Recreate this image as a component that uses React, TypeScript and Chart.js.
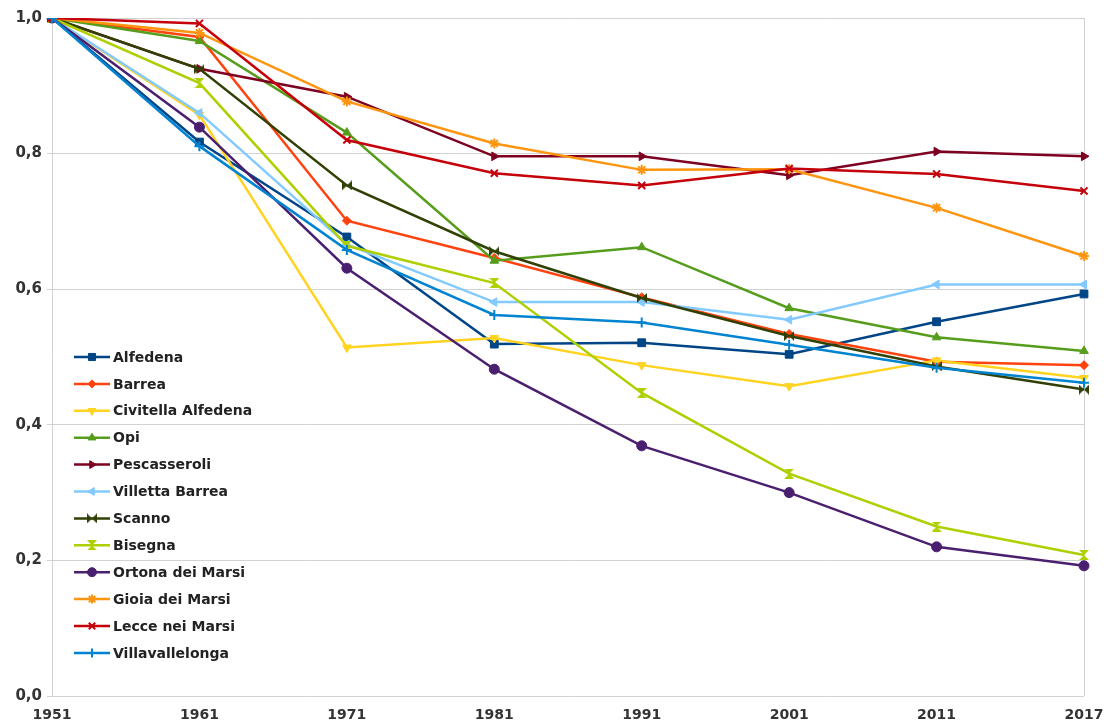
import React, { useEffect, useRef } from "react";
import { Chart, registerables } from "chart.js";
import { drawPoint } from "chart.js/helpers";

Chart.register(...registerables);

const years = ["1951", "1961", "1971", "1981", "1991", "2001", "2011", "2017"];

const alfedena = [1.0, 0.817, 0.677, 0.519, 0.521, 0.504, 0.552, 0.593];
const barrea = [1.0, 0.972, 0.701, 0.646, 0.588, 0.534, 0.493, 0.488];
const civitella = [1.0, 0.857, 0.514, 0.528, 0.488, 0.457, 0.495, 0.469];
const opi = [1.0, 0.966, 0.831, 0.642, 0.662, 0.572, 0.529, 0.509];
const pescasseroli = [1.0, 0.925, 0.884, 0.796, 0.796, 0.768, 0.803, 0.796];
const villettaBarrea = [1.0, 0.86, 0.666, 0.581, 0.581, 0.555, 0.607, 0.607];
const scanno = [1.0, 0.925, 0.753, 0.656, 0.587, 0.531, 0.486, 0.452];
const bisegna = [1.0, 0.904, 0.664, 0.609, 0.447, 0.328, 0.25, 0.208];
const ortona = [1.0, 0.839, 0.631, 0.482, 0.369, 0.3, 0.22, 0.192];
const gioia = [1.0, 0.978, 0.877, 0.815, 0.776, 0.777, 0.72, 0.649];
const lecce = [1.0, 0.992, 0.82, 0.771, 0.753, 0.778, 0.77, 0.745];
const villavallelonga = [1.0, 0.811, 0.658, 0.562, 0.551, 0.518, 0.484, 0.462];

const seriesNames = [
  "Alfedena",
  "Barrea",
  "Civitella Alfedena",
  "Opi",
  "Pescasseroli",
  "Villetta Barrea",
  "Scanno",
  "Bisegna",
  "Ortona dei Marsi",
  "Gioia dei Marsi",
  "Lecce nei Marsi",
  "Villavallelonga",
];
const seriesValues = [
  alfedena, barrea, civitella, opi, pescasseroli, villettaBarrea,
  scanno, bisegna, ortona, gioia, lecce, villavallelonga,
];
const seriesColors = [
  "#004586", "#ff420e", "#ffd320", "#579d1c", "#7e0021", "#83caff",
  "#314004", "#aecf00", "#4b1f6f", "#ff950e", "#c5000b", "#0084d1",
];

function shapeCanvas(color: string, kind: "bowtie" | "sandglass", s = 10) {
  const c = document.createElement("canvas");
  c.width = s;
  c.height = s;
  const g = c.getContext("2d")!;
  g.fillStyle = color;
  g.beginPath();
  if (kind === "bowtie") {
    g.moveTo(0, 0); g.lineTo(s / 2, s / 2); g.lineTo(0, s); g.closePath();
    g.moveTo(s, 0); g.lineTo(s / 2, s / 2); g.lineTo(s, s); g.closePath();
  } else {
    g.moveTo(0, 0); g.lineTo(s, 0); g.lineTo(s / 2, s / 2); g.closePath();
    g.moveTo(0, s); g.lineTo(s, s); g.lineTo(s / 2, s / 2); g.closePath();
  }
  g.fill();
  return c;
}

export default function App() {
  const ref = useRef<HTMLCanvasElement | null>(null);

  useEffect(() => {
    if (!ref.current) return;
    const styles: any[] = [
      { pointStyle: "rect", radius: 5.5, rotation: 0, bw: 1 },
      { pointStyle: "rectRot", radius: 4.5, rotation: 0, bw: 1 },
      { pointStyle: "triangle", radius: 5, rotation: 180, bw: 1 },
      { pointStyle: "triangle", radius: 5, rotation: 0, bw: 1 },
      { pointStyle: "triangle", radius: 5, rotation: 90, bw: 1 },
      { pointStyle: "triangle", radius: 5, rotation: 270, bw: 1 },
      { pointStyle: shapeCanvas(seriesColors[6], "bowtie"), radius: 5, rotation: 0, bw: 1 },
      { pointStyle: shapeCanvas(seriesColors[7], "sandglass"), radius: 5, rotation: 0, bw: 1 },
      { pointStyle: "circle", radius: 5, rotation: 0, bw: 1 },
      { pointStyle: "star", radius: 5, rotation: 0, bw: 2 },
      { pointStyle: "crossRot", radius: 5, rotation: 0, bw: 2 },
      { pointStyle: "cross", radius: 5, rotation: 0, bw: 2 },
    ];

    const datasets = seriesNames.map((name, i) => ({
      label: name,
      data: seriesValues[i],
      borderColor: seriesColors[i],
      backgroundColor: seriesColors[i],
      pointBackgroundColor: seriesColors[i],
      pointBorderColor: seriesColors[i],
      borderWidth: 2.5,
      pointStyle: styles[i].pointStyle,
      pointRadius: styles[i].radius,
      pointRotation: styles[i].rotation,
      pointBorderWidth: styles[i].bw,
      tension: 0,
      order: seriesNames.length - 1 - i,
    }));

    const legendPlugin = {
      id: "insideLegend",
      afterDraw(chart: any) {
        const ctx = chart.ctx;
        ctx.save();
        ctx.font = "bold 14px 'DejaVu Sans'";
        ctx.textBaseline = "middle";
        ctx.textAlign = "left";
        seriesNames.forEach((name, i) => {
          const y = 357 + i * 26.9;
          ctx.strokeStyle = seriesColors[i];
          ctx.fillStyle = seriesColors[i];
          ctx.lineWidth = 2.5;
          ctx.beginPath();
          ctx.moveTo(74, y);
          ctx.lineTo(110, y);
          ctx.stroke();
          ctx.lineWidth = styles[i].bw;
          drawPoint(ctx, {
            pointStyle: styles[i].pointStyle,
            rotation: styles[i].rotation,
            radius: styles[i].radius - 0.5,
            borderWidth: styles[i].bw,
          } as any, 92, y);
          ctx.fillStyle = "#222";
          ctx.fillText(name, 113, y + 1);
        });
        ctx.restore();
      },
    };

    const chart = new Chart(ref.current, {
      type: "line",
      data: { labels: years, datasets },
      plugins: [legendPlugin],
      options: {
        animation: false,
        responsive: true,
        maintainAspectRatio: false,
        layout: { padding: { left: 0, right: 24, top: 18, bottom: 0 } },
        plugins: {
          legend: { display: false },
          tooltip: { enabled: false },
        },
        scales: {
          x: {
            type: "category",
            offset: false,
            grid: {
              color: (c: any) => (c.index === years.length - 1 ? "#d2d2d2" : "rgba(0,0,0,0)"),
              drawTicks: false,
              lineWidth: 1,
            },
            border: { display: false },
            ticks: {
              padding: 11,
              color: "#333",
              font: { family: "'DejaVu Sans'", size: 14, weight: "bold" },
              maxRotation: 0,
              autoSkip: false,
            },
            afterFit: (s: any) => {
              s.height = 31;
              s.paddingLeft = 0;
              s.paddingRight = 0;
            },
          },
          y: {
            min: 0,
            max: 1,
            grid: { color: "#d2d2d2", tickLength: 5, lineWidth: 1 },
            border: { display: true, color: "#d2d2d2" },
            ticks: {
              stepSize: 0.2,
              padding: 5,
              color: "#333",
              font: { family: "'DejaVu Sans'", size: 15, weight: "bold" },
              callback: (v: any) => Number(v).toFixed(1).replace(".", ","),
            },
            afterFit: (s: any) => {
              s.width = 52;
              s.paddingTop = 0;
              s.paddingBottom = 0;
            },
          },
        },
      },
    });
    return () => chart.destroy();
  }, []);

  return (
    <div style={{ position: "absolute", left: 0, top: 0, width: 1108, height: 727, background: "#fff" }}>
      <canvas ref={ref} />
    </div>
  );
}
